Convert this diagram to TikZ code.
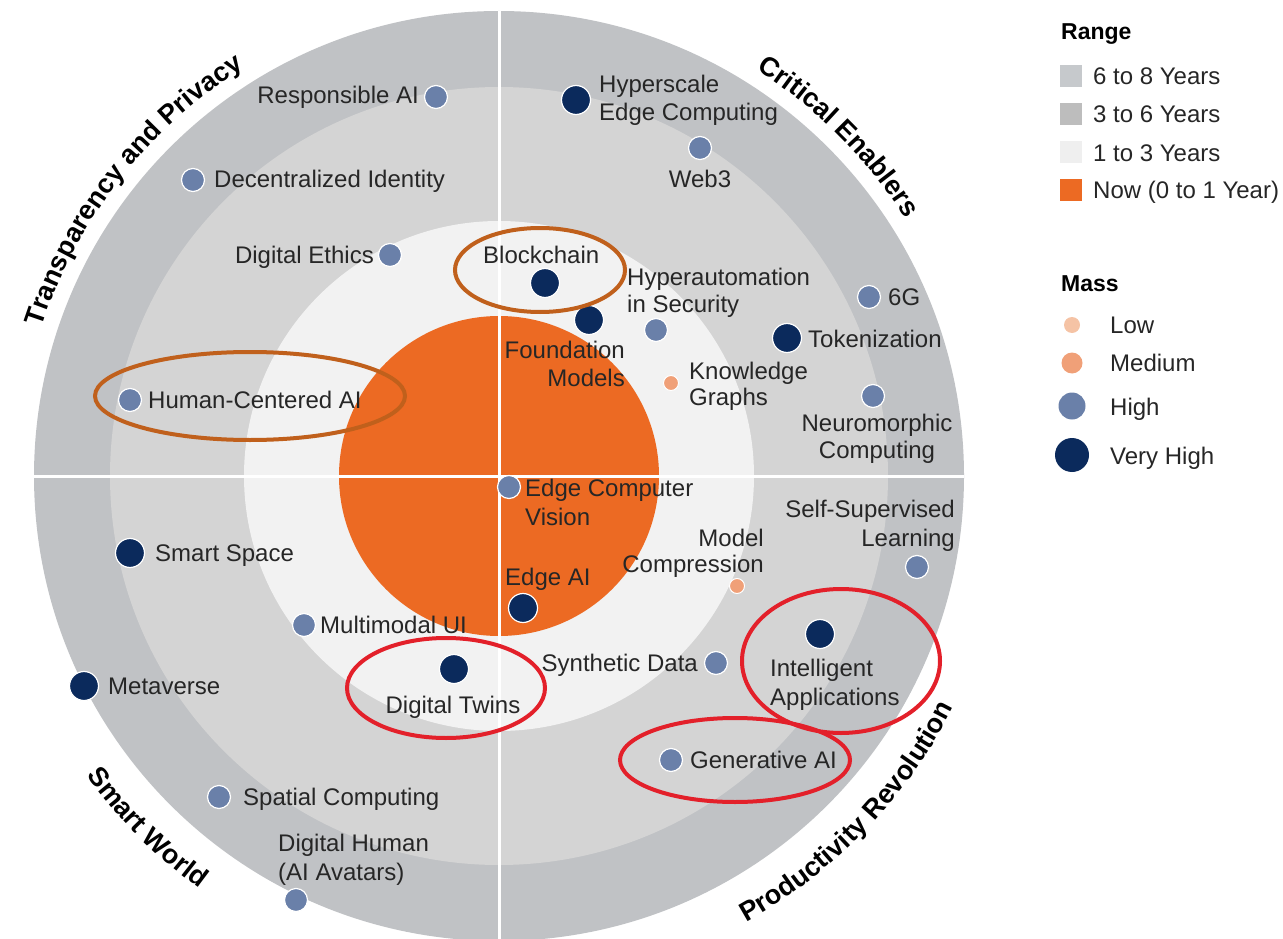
\documentclass[tikz,border=0pt]{standalone}
\usepackage{fontspec}
\setmainfont{Liberation Sans}
\usetikzlibrary{decorations.text}
\definecolor{ringA}{HTML}{C0C2C5}
\definecolor{ringB}{HTML}{D4D4D4}
\definecolor{ringC}{HTML}{F2F2F2}
\definecolor{nowc}{HTML}{EC6A23}
\definecolor{vhc}{HTML}{0B2A5C}
\definecolor{hic}{HTML}{6A80A9}
\definecolor{mdc}{HTML}{F0A078}
\definecolor{lwc}{HTML}{F5C3A5}
\definecolor{txt}{HTML}{262626}
\definecolor{brownc}{HTML}{C0601C}
\definecolor{redc}{HTML}{E3202A}
\definecolor{legA}{HTML}{C6C9CC}
\definecolor{legB}{HTML}{BDBDBD}
\definecolor{legC}{HTML}{EFEFEF}
\newcommand\qfont{\fontsize{27}{30}\selectfont\bfseries}
\begin{document}
\begin{tikzpicture}[x=1pt,y=1pt,
  vh/.style={circle, fill=vhc, draw=white, line width=1.2pt, minimum size=29pt, inner sep=0pt},
  hi/.style={circle, fill=hic, draw=white, line width=1.2pt, minimum size=23pt, inner sep=0pt},
  md/.style={circle, fill=mdc, draw=white, line width=1pt, minimum size=15pt, inner sep=0pt},
  lbl/.style={font=\fontsize{24}{28}\selectfont, text=txt, inner sep=0pt},
  legt/.style={font=\fontsize{24}{28}\selectfont, text=txt, inner sep=0pt, anchor=base west},
  legh/.style={font=\fontsize{23}{26}\selectfont\bfseries, text=black, inner sep=0pt, anchor=base west},
  sq/.style={minimum size=22pt, inner sep=0pt, draw=none},
  ldot/.style={circle, inner sep=0pt, draw=none},
  divider/.style={white, line width=3pt},
  brownmark/.style={draw=brownc, line width=4pt},
  redmark/.style={draw=redc, line width=4pt},
  quad/.style={decorate, decoration={text along path, text align=center, text color=black}}
]
\useasboundingbox (0,0) rectangle (1283,-939);
\coordinate (C) at (499,-476);
% rings
\fill[ringA] (C) circle[radius=465pt];
\fill[ringB] (C) circle[radius=389pt];
\fill[ringC] (C) circle[radius=255pt];
\fill[nowc] (C) circle[radius=160pt];
% dividers
\coordinate (Nt) at (499,-11);
\coordinate (Nb) at (499,-941);
\coordinate (Wl) at (34,-476);
\coordinate (Er) at (964,-476);
\draw[divider] (Nt) -- (Nb);
\draw[divider] (Wl) -- (Er);
% quadrant titles
\path[quad, decoration={text={|\qfont|Transparency and Privacy}}]
  ([shift={(172:481pt)}]C) arc[start angle=172, end angle=112, radius=481pt];
\path[quad, decoration={text={|\qfont|Critical Enablers}}]
  ([shift={(75:481pt)}]C) arc[start angle=75, end angle=15, radius=481pt];
\path[quad, decoration={text={|\qfont|Smart World}}]
  ([shift={(195:510pt)}]C) arc[start angle=195, end angle=255, radius=510pt];
\path[quad, decoration={text={|\qfont|Productivity Revolution}}]
  ([shift={(-80:510pt)}]C) arc[start angle=-80, end angle=-8, radius=510pt];

% --- Transparency and Privacy
\node[hi] (rai) at (436,-97) {};
\node[lbl, anchor=base east] (raiL) at (419,-104) {Responsible AI};
\node[hi] (dec) at (193,-180) {};
\node[lbl, anchor=base west] (decL) at (214,-188) {Decentralized Identity};
\node[hi] (de) at (390,-255) {};
\node[lbl, anchor=base east] (deL) at (374,-263) {Digital Ethics};
\node[hi] (hcai) at (130,-400) {};
\node[lbl, anchor=base west] (hcaiL) at (148,-408) {Human-Centered AI};

% --- Critical Enablers
\node[vh] (bc) at (545,-283) {};
\node[lbl, anchor=base west] (bcL) at (483,-263) {Blockchain};
\node[vh] (hyp) at (576,-100) {};
\node[lbl, anchor=base west] (hypL1) at (599,-93) {Hyperscale};
\node[lbl, anchor=base west] (hypL2) at (599,-121) {Edge Computing};
\node[hi] (web) at (700,-148) {};
\node[lbl, anchor=base] (webL) at (700,-188) {Web3};
\node[vh] (fm) at (589,-320) {};
\node[lbl, anchor=base east] (fmL1) at (625,-358) {Foundation};
\node[lbl, anchor=base east] (fmL2) at (625,-386) {Models};
\node[hi] (ha) at (656,-330) {};
\node[lbl, anchor=base west] (haL1) at (627,-285) {Hyperautomation};
\node[lbl, anchor=base west] (haL2) at (627,-312) {in Security};
\node[md] (kg) at (671,-383) {};
\node[lbl, anchor=base west] (kgL1) at (689,-379) {Knowledge};
\node[lbl, anchor=base west] (kgL2) at (689,-405) {Graphs};
\node[hi] (sixg) at (869,-297) {};
\node[lbl, anchor=base west] (sixgL) at (888,-305) {6G};
\node[vh] (tok) at (787,-338) {};
\node[lbl, anchor=base west] (tokL) at (808,-347) {Tokenization};
\node[hi] (neu) at (873,-396) {};
\node[lbl, anchor=base] (neuL1) at (877,-431) {Neuromorphic};
\node[lbl, anchor=base] (neuL2) at (877,-458) {Computing};

% --- Smart World
\node[vh] (ss) at (130,-553) {};
\node[lbl, anchor=base west] (ssL) at (155,-561) {Smart Space};
\node[hi] (mm) at (304,-625) {};
\node[lbl, anchor=base west] (mmL) at (320,-633) {Multimodal UI};
\node[vh] (dt) at (454,-669) {};
\node[lbl, anchor=base] (dtL) at (453,-713) {Digital Twins};
\node[vh] (meta) at (84,-686) {};
\node[lbl, anchor=base west] (metaL) at (108,-694) {Metaverse};
\node[hi] (sc) at (219,-797) {};
\node[lbl, anchor=base west] (scL) at (243,-805) {Spatial Computing};
\node[hi] (dh) at (296,-900) {};
\node[lbl, anchor=base west] (dhL1) at (278,-851) {Digital Human};
\node[lbl, anchor=base west] (dhL2) at (278,-880) {(AI Avatars)};

% --- Productivity Revolution
\node[hi] (ecv) at (509,-487) {};
\node[lbl, anchor=base west] (ecvL1) at (525,-496) {Edge Computer};
\node[lbl, anchor=base west] (ecvL2) at (525,-525) {Vision};
\node[vh] (eai) at (523,-608) {};
\node[lbl, anchor=base west] (eaiL) at (505,-585) {Edge AI};
\node[md] (mc) at (737,-586) {};
\node[lbl, anchor=base east] (mcL1) at (764,-546) {Model};
\node[lbl, anchor=base east] (mcL2) at (764,-572) {Compression};
\node[hi] (ssl) at (917,-567) {};
\node[lbl, anchor=base east] (sslL1) at (955,-517) {Self-Supervised};
\node[lbl, anchor=base east] (sslL2) at (955,-546) {Learning};
\node[hi] (sd) at (716,-663) {};
\node[lbl, anchor=base east] (sdL) at (698,-671) {Synthetic Data};
\node[vh] (ia) at (820,-634) {};
\node[lbl, anchor=base west] (iaL1) at (770,-676) {Intelligent};
\node[lbl, anchor=base west] (iaL2) at (770,-705) {Applications};
\node[hi] (ga) at (671,-760) {};
\node[lbl, anchor=base west] (gaL) at (690,-768) {Generative AI};

% --- annotation ellipses
\draw[brownmark] (540,-270) ellipse[x radius=85pt, y radius=42pt];
\draw[brownmark] (250,-396) ellipse[x radius=155pt, y radius=44pt];
\draw[redmark] (446,-688) ellipse[x radius=99pt, y radius=50pt];
\draw[redmark] (841,-661) ellipse[x radius=99pt, y radius=72pt];
\draw[redmark] (735,-760) ellipse[x radius=115pt, y radius=42pt];

% --- legend
\node[legh] (rangeT) at (1061,-40) {Range};
\node[sq, fill=legA] (s1) at (1070.5,-76) {};
\node[legt] (s1L) at (1093,-85) {6 to 8 Years};
\node[sq, fill=legB] (s2) at (1070.5,-114) {};
\node[legt] (s2L) at (1093,-123) {3 to 6 Years};
\node[sq, fill=legC] (s3) at (1070.5,-152) {};
\node[legt] (s3L) at (1093,-161) {1 to 3 Years};
\node[sq, fill=nowc] (s4) at (1070.5,-190) {};
\node[legt] (s4L) at (1093,-198) {Now (0 to 1 Year)};
\node[legh] (massT) at (1061,-291) {Mass};
\node[ldot, fill=lwc, minimum size=16pt] (m1) at (1072,-325) {};
\node[legt] (m1L) at (1110,-333) {Low};
\node[ldot, fill=mdc, minimum size=21pt] (m2) at (1072,-363) {};
\node[legt] (m2L) at (1110,-371) {Medium};
\node[ldot, fill=hic, minimum size=27pt] (m3) at (1072,-406) {};
\node[legt] (m3L) at (1110,-415) {High};
\node[ldot, fill=vhc, minimum size=34pt] (m4) at (1072,-455) {};
\node[legt] (m4L) at (1110,-464) {Very High};
\end{tikzpicture}
\end{document}
